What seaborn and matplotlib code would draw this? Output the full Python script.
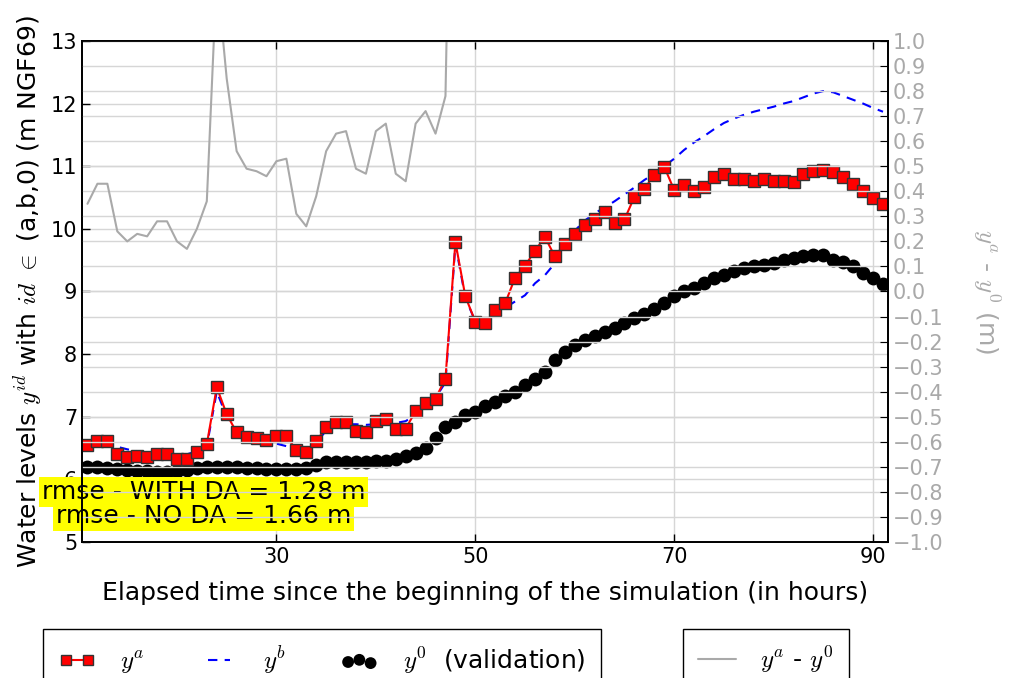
import numpy as np
import pandas as pd
import matplotlib
matplotlib.use("Agg")
import matplotlib.pyplot as plt
import seaborn as sns

hours = list(range(11, 92))

ya = [6.55, 6.62, 6.61, 6.40, 6.35, 6.37, 6.35, 6.40, 6.40, 6.33,
      6.32, 6.43, 6.56, 7.47, 7.04, 6.75, 6.67, 6.66, 6.63, 6.69,
      6.69, 6.47, 6.44, 6.61, 6.83, 6.91, 6.92, 6.77, 6.75, 6.93,
      6.97, 6.80, 6.81, 7.09, 7.22, 7.29, 7.61, 9.79, 8.92, 8.52,
      8.50, 8.70, 8.81, 9.22, 9.41, 9.65, 9.87, 9.56, 9.76, 9.92,
      10.06, 10.15, 10.27, 10.10, 10.15, 10.51, 10.64, 10.86, 10.99, 10.62,
      10.70, 10.60, 10.67, 10.82, 10.88, 10.79, 10.80, 10.77, 10.80, 10.77,
      10.77, 10.75, 10.88, 10.93, 10.94, 10.90, 10.83, 10.72, 10.61, 10.50,
      10.40]

yb = [6.55, 6.58, 6.58, 6.52, 6.48, 6.45, 6.43, 6.42, 6.42, 6.40,
      6.40, 6.45, 6.53, 7.40, 7.00, 6.72, 6.66, 6.63, 6.60, 6.57,
      6.53, 6.48, 6.45, 6.58, 6.78, 6.86, 6.88, 6.88, 6.87, 6.88,
      6.90, 6.90, 6.93, 7.03, 7.15, 7.30, 7.55, 9.75, 8.90, 8.52,
      8.57, 8.65, 8.74, 8.84, 8.94, 9.13, 9.26, 9.45, 9.72, 9.97,
      10.13, 10.25, 10.34, 10.44, 10.55, 10.66, 10.78, 10.88, 11.00, 11.12,
      11.26, 11.38, 11.48, 11.59, 11.69, 11.76, 11.82, 11.87, 11.91, 11.95,
      12.00, 12.04, 12.10, 12.16, 12.20, 12.18, 12.12, 12.06, 12.00, 11.93,
      11.87]

y0 = [6.20, 6.19, 6.18, 6.16, 6.15, 6.14, 6.13, 6.12, 6.12, 6.13,
      6.15, 6.18, 6.20, 6.20, 6.19, 6.19, 6.18, 6.18, 6.17, 6.17,
      6.16, 6.16, 6.18, 6.23, 6.27, 6.28, 6.28, 6.28, 6.28, 6.29,
      6.30, 6.33, 6.37, 6.42, 6.50, 6.66, 6.83, 6.92, 7.03, 7.08,
      7.17, 7.24, 7.33, 7.40, 7.51, 7.60, 7.72, 7.91, 8.03, 8.15,
      8.23, 8.29, 8.36, 8.42, 8.50, 8.57, 8.64, 8.72, 8.81, 8.92,
      9.00, 9.06, 9.14, 9.21, 9.26, 9.32, 9.37, 9.40, 9.43, 9.46,
      9.50, 9.54, 9.57, 9.58, 9.58, 9.51, 9.47, 9.41, 9.30, 9.21,
      9.12]

yticks_left = [5, 6, 7, 8, 9, 10, 11, 12, 13]
xticks = [30, 50, 70, 90]
yticks_right = [round(v, 1) for v in np.linspace(-1.0, 1.0, 21)]

rmse_labels = ["rmse - WITH DA = 1.28 m", "rmse - NO DA = 1.66 m"]
legend_labels = ["$y^a$", "$y^b$", "$y^0$  (validation)", "$y^a$ - $y^0$"]
xlabel = "Elapsed time since the beginning of the simulation (in hours)"
ylabel = "Water levels $y^{id}$ with $id$ $\\in$ (a,b,0) (m NGF69)"
ylabel2 = "$y^a$ - $y^0$ (m)"

df = pd.DataFrame({"hour": hours, "ya": ya, "yb": yb, "y0": y0})
df["diff"] = df["ya"] - df["y0"]

sns.set_style("ticks")
plt.rcParams["font.family"] = ["DejaVu Sans"]
plt.rcParams["mathtext.fontset"] = "cm"
plt.rcParams["xtick.direction"] = "in"
plt.rcParams["ytick.direction"] = "in"
plt.rcParams["text.color"] = "black"
plt.rcParams["axes.labelcolor"] = "black"

GRAY = "#a9a9a9"
GRID = "#d6d6d6"
FS_TICK = 15
FS = 18

fig = plt.figure(figsize=(10.10, 6.78), dpi=100)
ax = fig.add_axes([0.0812, 0.2006, 0.7980, 0.7390])

sns.scatterplot(data=df, x="hour", y="y0", ax=ax, color="black", s=100,
                edgecolor="black", linewidth=0, zorder=2, legend=False)
sns.lineplot(data=df, x="hour", y="yb", ax=ax, color="blue", lw=1.5,
             linestyle=(0, (4.5, 3.5)), zorder=3, legend=False)
sns.lineplot(data=df, x="hour", y="ya", ax=ax, color="red", lw=1.5,
             marker="s", markersize=8, markeredgecolor="#333333",
             markeredgewidth=1, zorder=4, legend=False)

ax.set_xlim(10.45, 91.5)
ax.set_ylim(5, 13)
ax.set_xticks(xticks)
ax.set_yticks(yticks_left)
ax.grid(True, color=GRID, lw=1)
ax.tick_params(axis="both", labelsize=FS_TICK, length=6, width=1, top=True,
               right=False, colors="black")
for s in ax.spines.values():
    s.set_linewidth(1.3)
    s.set_color("black")
ax.set_xlabel(xlabel, fontsize=FS, labelpad=10)
ax.set_ylabel(ylabel, fontsize=FS, labelpad=4)

ax2 = ax.twinx()
sns.lineplot(data=df, x="hour", y="diff", ax=ax2, color=GRAY, lw=1.5,
             legend=False)
ax2.set_ylim(-1.0, 1.0)
ax2.set_yticks(yticks_right)
ax2.set_yticklabels([f"{v:.1f}".replace("-", "\u2212") for v in yticks_right])
ax2.grid(True, axis="y", color=GRID, lw=1)
ax2.tick_params(axis="y", labelsize=FS_TICK, length=6, color="black",
                labelcolor=GRAY)
ax2.set_ylabel(ylabel2, fontsize=FS, color=GRAY, rotation=270, labelpad=42)
for s in ax2.spines.values():
    s.set_linewidth(1.3)
    s.set_color("black")

ax.text(22.68, 5.80, rmse_labels[0], fontsize=FS, ha="center", va="center",
        zorder=2.4, bbox=dict(facecolor="yellow", edgecolor="none", pad=2))
ax.text(22.68, 5.415, rmse_labels[1], fontsize=FS, ha="center", va="center",
        zorder=2.4, bbox=dict(facecolor="yellow", edgecolor="none", pad=2))

h_a = ax.get_lines()[-1]
h_b = [l for l in ax.get_lines() if l.get_color() == "blue"][0]
h_0 = ax.collections[0]
h_d = ax2.get_lines()[0]

leg_kw = dict(loc="upper left", fontsize=FS, frameon=True, fancybox=False,
              edgecolor="black", borderaxespad=0, handlelength=1.5,
              handletextpad=1.0, borderpad=0.6, framealpha=1)
leg1 = fig.legend([h_a, h_b, h_0], legend_labels[:3],
                  bbox_to_anchor=(43 / 1010, 1 - 629 / 678), ncol=3,
                  numpoints=2, scatterpoints=3, columnspacing=2.2,
                  markerscale=0.85, **leg_kw)
leg1.get_frame().set_linewidth(1.0)
leg2 = fig.legend([h_d], legend_labels[3:],
                  bbox_to_anchor=(683 / 1010, 1 - 629 / 678), **leg_kw)
leg2.get_frame().set_linewidth(1.0)

fig.savefig("out.png", dpi=100)
